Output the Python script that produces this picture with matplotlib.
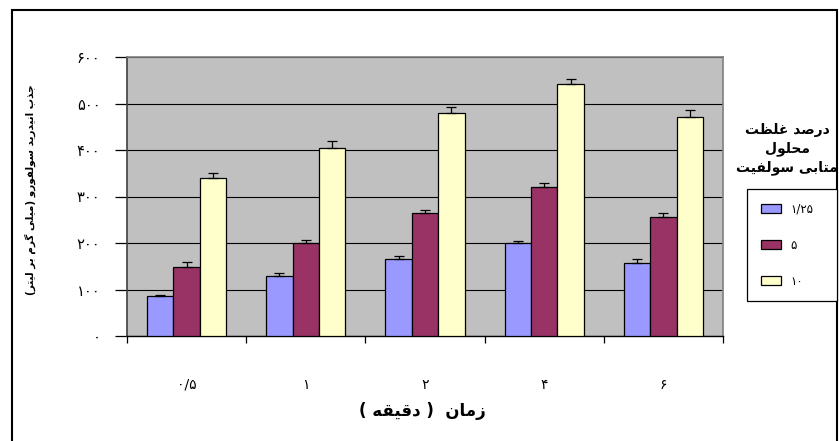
import matplotlib
matplotlib.use("Agg")
import matplotlib.pyplot as plt
from matplotlib.patches import Rectangle
import numpy as np

# ---------------- data ----------------
categories = ["۰/۵", "۱", "۲", "۴", "۶"]
series_labels = ["۱/۲۵", "۵", "۱۰"]
values_125 = [87, 128, 165, 199, 157]
values_5 = [149, 201, 264, 320, 256]
values_10 = [340, 405, 479, 541, 471]
err_125 = [2, 7, 6, 6, 9]
err_5 = [11, 6, 8, 8, 8]
err_10 = [11, 15, 14, 12, 14]
y_ticks = [0, 100, 200, 300, 400, 500, 600]
y_label = "جذب انیدرید سولفورو (میلی گرم بر لیتر)"
x_label = "زمان  ( دقیقه )"
legend_title = "درصد غلظت\nمحلول\nمتابی سولفیت"

colors = ["#9999FF", "#993366", "#FFFFCC"]

# ------------- minimal Persian shaping (presentation forms) -------------
FORMS = {
    "ا": ("\uFE8D", "\uFE8E"),
    "ب": ("\uFE8F", "\uFE90", "\uFE91", "\uFE92"),
    "ت": ("\uFE95", "\uFE96", "\uFE97", "\uFE98"),
    "ج": ("\uFE9D", "\uFE9E", "\uFE9F", "\uFEA0"),
    "ح": ("\uFEA1", "\uFEA2", "\uFEA3", "\uFEA4"),
    "د": ("\uFEA9", "\uFEAA"),
    "ذ": ("\uFEAB", "\uFEAC"),
    "ر": ("\uFEAD", "\uFEAE"),
    "ز": ("\uFEAF", "\uFEB0"),
    "س": ("\uFEB1", "\uFEB2", "\uFEB3", "\uFEB4"),
    "ص": ("\uFEB9", "\uFEBA", "\uFEBB", "\uFEBC"),
    "ظ": ("\uFEC5", "\uFEC6", "\uFEC7", "\uFEC8"),
    "غ": ("\uFECD", "\uFECE", "\uFECF", "\uFED0"),
    "ف": ("\uFED1", "\uFED2", "\uFED3", "\uFED4"),
    "ق": ("\uFED5", "\uFED6", "\uFED7", "\uFED8"),
    "ل": ("\uFEDD", "\uFEDE", "\uFEDF", "\uFEE0"),
    "م": ("\uFEE1", "\uFEE2", "\uFEE3", "\uFEE4"),
    "ن": ("\uFEE5", "\uFEE6", "\uFEE7", "\uFEE8"),
    "ه": ("\uFEE9", "\uFEEA", "\uFEEB", "\uFEEC"),
    "و": ("\uFEED", "\uFEEE"),
    "ی": ("\uFBFC", "\uFBFD", "\uFBFE", "\uFBFF"),
    "گ": ("\uFB92", "\uFB93", "\uFB94", "\uFB95"),
}
MIRROR = {"(": ")", ")": "("}


def shape_line(line):
    out = []
    n = len(line)
    for i, c in enumerate(line):
        if c not in FORMS:
            out.append(MIRROR.get(c, c))
            continue
        prev = line[i - 1] if i > 0 else None
        nxt = line[i + 1] if i + 1 < n else None
        jp = prev in FORMS and len(FORMS[prev]) == 4
        jn = len(FORMS[c]) == 4 and nxt in FORMS
        f = FORMS[c]
        if jp and jn:
            out.append(f[3])
        elif jp:
            out.append(f[1])
        elif jn:
            out.append(f[2])
        else:
            out.append(f[0])
    return "".join(reversed(out))


def fa(text):
    return "\n".join(shape_line(l) for l in text.split("\n"))


def fa_digits(s):
    return str(s).translate(str.maketrans("0123456789", "۰۱۲۳۴۵۶۷۸۹"))


plt.rcParams["font.family"] = ["DejaVu Sans"]

W, H = 839, 441
fig = plt.figure(figsize=(W / 100, H / 100), dpi=100)
fig.patch.set_facecolor("white")


def fx(px):
    return px / W


def fy(py):
    return 1 - py / H


ax = fig.add_axes([fx(127), fy(336), fx(723) - fx(127), fy(57) - fy(336)])
ax.set_facecolor("#C0C0C0")

x = np.arange(len(categories))
bw = 0.222
series = [values_125, values_5, values_10]
errs = [err_125, err_5, err_10]
handles = []
for k, (vals, er, col) in enumerate(zip(series, errs, colors)):
    pos = x + (k - 1) * bw
    b = ax.bar(pos, vals, width=bw, color=col, edgecolor="black", linewidth=0.9, zorder=3)
    handles.append(b)
    ax.errorbar(pos, vals, yerr=[np.zeros(len(vals)), er], fmt="none",
                ecolor="black", elinewidth=0.9, capsize=3.6, capthick=0.9, zorder=4)

ax.set_xlim(-0.5, len(categories) - 0.5)
ax.set_ylim(0, 600)
ax.set_yticks(y_ticks)
ax.set_yticklabels([fa_digits(v) for v in y_ticks], fontsize=10.5)
ax.yaxis.grid(True, color="black", linewidth=0.8, zorder=1)
ax.set_axisbelow(True)
ax.tick_params(axis="y", length=8.6, width=0.9, pad=10.5, direction="out", colors="black")

# category boundary ticks (major, no labels) + centered labels (minor)
ax.set_xticks(np.arange(-0.5, len(categories) + 0.5, 1.0))
ax.set_xticklabels([])
ax.set_xticks(x, minor=True)
ax.set_xticklabels(categories, minor=True, fontsize=10)
ax.tick_params(axis="x", which="major", length=5, width=0.9, direction="out")
ax.tick_params(axis="x", which="minor", length=0, pad=30)

for side in ["top", "right"]:
    ax.spines[side].set_color("#808080")
    ax.spines[side].set_linewidth(1.2)
ax.spines["left"].set_color("#404040")
ax.spines["left"].set_linewidth(1.2)
ax.spines["bottom"].set_color("black")
ax.spines["bottom"].set_linewidth(1.0)

# axis titles
fig.text(fx(30), fy(190), fa(y_label), rotation=90, ha="center", va="center",
         fontsize=7.5, fontweight="bold")
fig.text(fx(422), fy(411), fa(x_label), ha="center", va="center",
         fontsize=12, fontweight="bold")

# legend title and legend
fig.text(fx(787), fy(149), fa(legend_title), ha="center", va="center",
         fontsize=10, fontweight="bold", linespacing=1.4)
leg = fig.legend(handles, series_labels, loc="upper left",
                 bbox_to_anchor=(fx(747), fy(300), fx(837) - fx(747), fy(189) - fy(300)),
                 mode="expand", frameon=True, fancybox=False,
                 edgecolor="black", framealpha=1, fontsize=8.5,
                 handlelength=1.7, handleheight=0.85, handletextpad=0.8,
                 labelspacing=1.95, borderpad=1.15, borderaxespad=0)
leg.get_frame().set_linewidth(0.9)
for p in leg.get_patches():
    p.set_edgecolor("black")

# chart area border
fig.patches.append(Rectangle((fx(12), -0.1), fx(837) - fx(12), fy(10) + 0.1,
                             transform=fig.transFigure, fill=False,
                             edgecolor="black", linewidth=1.5))

fig.savefig("out.png", dpi=100)
